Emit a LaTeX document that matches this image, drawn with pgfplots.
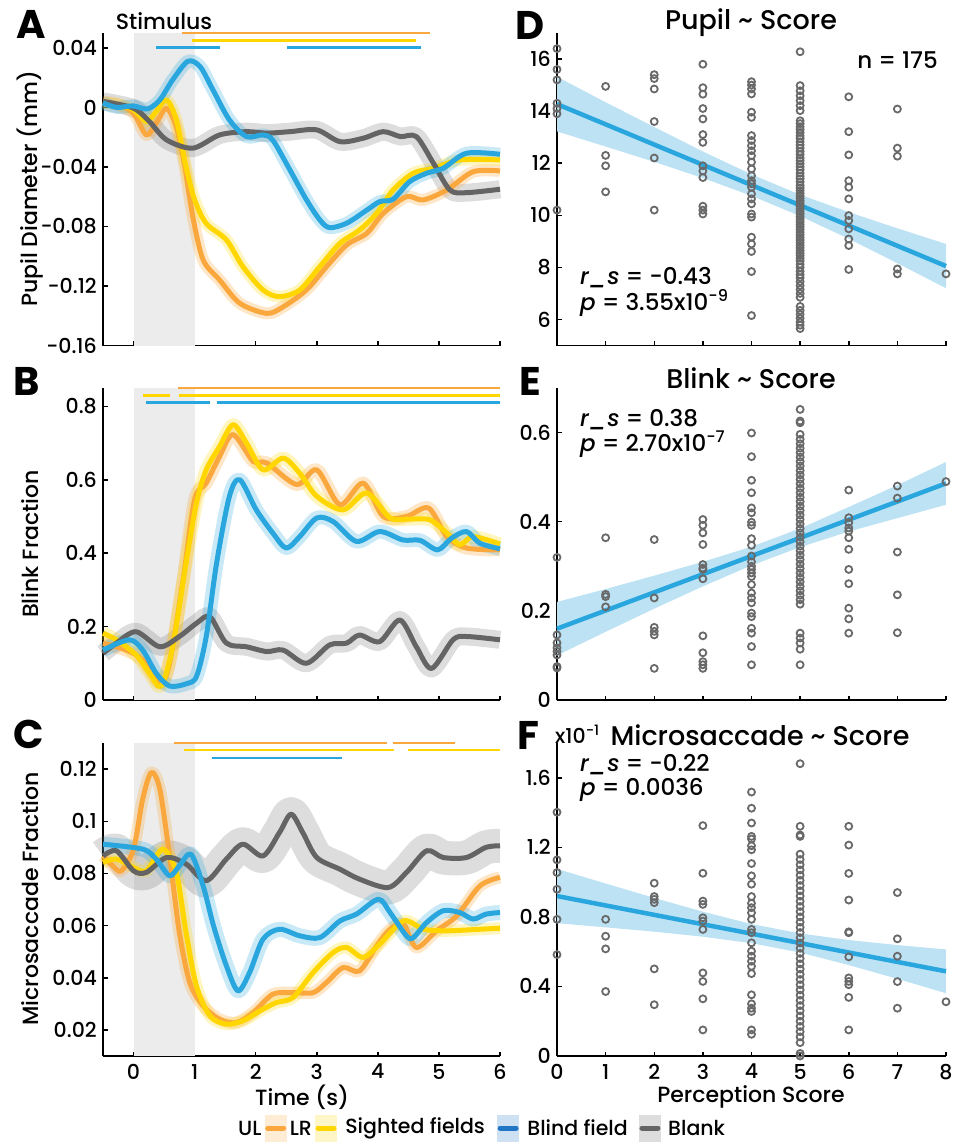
\documentclass[border=0pt]{standalone}
\usepackage{pgfplots}
\pgfplotsset{compat=1.18}
\usepackage{pgfplotstable}
\usetikzlibrary{calc}
\usepackage{fontspec}
\setmainfont{Poppins}[UprightFont={* Medium}, BoldFont={* Bold}, ItalicFont={* Medium Italic}]
\definecolor{cOr}{RGB}{250,168,62}
\definecolor{cYe}{RGB}{255,214,0}
\definecolor{cBl}{RGB}{41,166,222}
\definecolor{cGr}{RGB}{100,100,100}
\definecolor{cStim}{RGB}{236,236,236}
\definecolor{cCI}{RGB}{188,226,244}
\definecolor{cPt}{RGB}{105,105,105}
\definecolor{cLBl}{RGB}{32,118,196}
\newcommand\tk{\fontsize{20.5}{24}\selectfont}
\newcommand\lb{\fontsize{22}{26}\selectfont}
\newcommand\ttl{\fontsize{27}{31}\selectfont}
\newcommand\ann{\fontsize{23}{27}\selectfont}
\newcommand\lgd{\fontsize{20.5}{24}\selectfont}
\newcommand\pl{\fontsize{40}{46}\selectfont\bfseries}

% ---------------- Panel A: pupil ----------------
\pgfplotstableread{
x y
-0.5 0.004
-0.25 0.002
0 -0.004
0.21 -0.0185
0.37 -0.0106
0.54 -0.0006
0.70 -0.013
0.84 -0.040
0.97 -0.0734
1.14 -0.1025
1.41 -0.116
1.74 -0.1316
2.18 -0.1384
2.45 -0.134
2.83 -0.1227
3.16 -0.107
3.49 -0.0924
3.82 -0.0846
4.09 -0.0711
4.47 -0.060
4.74 -0.0622
5.13 -0.0555
5.56 -0.0432
6.0 -0.0427
}\AOr
\pgfplotstableread{
x y
-0.5 0.003
-0.25 0.002
0 -0.0017
0.21 -0.0095
0.37 -0.0028
0.54 0.005
0.70 -0.0084
0.86 -0.040
1.0 -0.062
1.19 -0.078
1.52 -0.089
1.79 -0.107
2.12 -0.1227
2.39 -0.1272
2.72 -0.1227
3.05 -0.107
3.38 -0.0913
3.70 -0.0824
3.98 -0.0711
4.25 -0.0555
4.58 -0.0442
4.91 -0.0409
5.34 -0.0353
6.0 -0.0353
}\AYe
\pgfplotstableread{
x y
-0.5 0.003
-0.28 0.000
-0.01 0.001
0.23 -0.001
0.43 0.005
0.64 0.0185
0.89 0.031
1.09 0.0274
1.30 0.0118
1.57 -0.0084
1.85 -0.0196
2.12 -0.0185
2.28 -0.022
2.56 -0.042
2.83 -0.062
3.05 -0.0756
3.21 -0.0808
3.49 -0.0778
3.82 -0.069
4.03 -0.0633
4.25 -0.0617
4.52 -0.0499
4.80 -0.0442
5.07 -0.0409
5.45 -0.0308
6.0 -0.0315
}\ABl
\pgfplotstableread{
x y
-0.5 0.004
0 -0.0005
0.26 -0.0095
0.54 -0.0218
0.97 -0.0274
1.41 -0.0185
1.85 -0.0163
2.18 -0.0173
2.56 -0.0163
3.0 -0.0151
3.38 -0.023
3.76 -0.0207
4.09 -0.0163
4.37 -0.0196
4.63 -0.0196
4.91 -0.0375
5.18 -0.0555
5.45 -0.0573
6.0 -0.055
}\AGr
% ---------------- Panel B: blink ----------------
\pgfplotstableread{
x y
-0.5 0.155
-0.12 0.136
0.15 0.109
0.43 0.046
0.59 0.100
0.81 0.327
1.0 0.546
1.19 0.591
1.41 0.664
1.63 0.723
1.96 0.650
2.18 0.646
2.67 0.587
3.0 0.627
3.38 0.532
3.76 0.591
4.09 0.500
4.47 0.500
4.83 0.523
5.13 0.445
5.45 0.414
6.0 0.409
}\BOr
\pgfplotstableread{
x y
-0.5 0.182
-0.28 0.164
0.04 0.123
0.26 0.073
0.45 0.038
0.64 0.145
0.86 0.373
1.03 0.537
1.19 0.627
1.41 0.691
1.63 0.750
1.85 0.700
2.12 0.627
2.45 0.659
2.72 0.618
3.0 0.555
3.43 0.518
3.82 0.564
4.20 0.496
4.52 0.493
4.85 0.491
5.13 0.455
5.34 0.423
5.56 0.445
6.0 0.425
}\BYe
\pgfplotstableread{
x y
-0.5 0.136
-0.07 0.164
0.15 0.136
0.37 0.073
0.59 0.038
0.86 0.044
1.03 0.064
1.19 0.173
1.36 0.373
1.57 0.555
1.74 0.600
2.01 0.518
2.28 0.455
2.50 0.414
2.72 0.445
3.0 0.496
3.27 0.486
3.65 0.432
4.03 0.459
4.41 0.436
4.69 0.435
4.98 0.409
5.20 0.440
5.45 0.459
5.67 0.427
6.0 0.412
}\BBl
\pgfplotstableread{
x y
-0.5 0.127
-0.28 0.155
0.04 0.186
0.43 0.145
0.75 0.173
1.03 0.209
1.25 0.227
1.52 0.155
1.85 0.145
2.18 0.132
2.45 0.136
2.83 0.100
3.21 0.150
3.49 0.155
3.70 0.177
4.03 0.159
4.36 0.218
4.63 0.145
4.88 0.086
5.23 0.164
5.45 0.173
6.0 0.164
}\BGr
% ---------------- Panel C: microsaccade ----------------
\pgfplotstableread{
x y
-0.5 0.0867
-0.34 0.0829
-0.20 0.0810
0 0.0893
0.15 0.1085
0.29 0.1187
0.43 0.1123
0.59 0.0867
0.75 0.0574
0.92 0.0382
1.14 0.0292
1.41 0.0241
1.68 0.0228
1.96 0.0267
2.28 0.0337
2.61 0.0343
2.94 0.0343
3.16 0.0382
3.43 0.0439
3.70 0.0426
3.98 0.0522
4.20 0.0586
4.42 0.0605
4.63 0.0516
4.96 0.0580
5.29 0.0637
5.67 0.0752
6.0 0.0785
}\COr
\pgfplotstableread{
x y
-0.5 0.0842
-0.28 0.0855
0 0.0823
0.21 0.0810
0.48 0.0893
0.70 0.0804
0.86 0.0574
1.03 0.0369
1.25 0.0254
1.52 0.0222
1.79 0.0235
2.07 0.0273
2.34 0.0305
2.61 0.0324
2.94 0.0420
3.27 0.0497
3.49 0.0516
3.76 0.0478
4.03 0.0529
4.42 0.0618
4.75 0.0586
5.13 0.0580
5.67 0.0586
6.0 0.0590
}\CYe
\pgfplotstableread{
x y
-0.5 0.0912
0.15 0.0893
0.37 0.0855
0.59 0.0791
0.75 0.0829
0.94 0.0874
1.14 0.0752
1.31 0.0599
1.52 0.0446
1.71 0.0350
1.90 0.0420
2.12 0.0548
2.39 0.0586
2.72 0.0561
3.05 0.0554
3.38 0.0618
3.65 0.0644
4.01 0.0701
4.20 0.0650
4.47 0.0560
4.58 0.0554
4.80 0.0612
5.07 0.0657
5.34 0.0650
5.56 0.0625
5.77 0.0644
6.0 0.0650
}\CBl
\pgfplotstableread{
x y
-0.5 0.0867
-0.28 0.0887
0 0.0810
0.21 0.0804
0.54 0.0861
0.86 0.0836
1.19 0.0772
1.52 0.0855
1.79 0.0912
2.12 0.0867
2.39 0.0957
2.58 0.1027
2.77 0.0957
3.0 0.0861
3.38 0.0816
3.70 0.0778
4.17 0.0746
4.47 0.0804
4.80 0.0887
5.07 0.0861
5.45 0.0861
5.77 0.0900
6.0 0.0906
}\CGr

\pgfplotsset{
  base/.style={scale only axis, axis lines*=left, clip=false,
    axis line style={line width=1.5pt,black,-},
    tick align=inside, major tick length=4.5pt,
    every tick/.append style={line width=1.5pt,black},
    tick label style={font=\tk, inner sep=0pt},
    yticklabel style={xshift=-6pt},
    xticklabel style={yshift=-8pt},
    /pgf/number format/assume math mode=true},
  lpan/.style={base, width=397pt, xmin=-0.5, xmax=6, xtick={0,...,6}},
  rpan/.style={base, width=389pt, xmin=0, xmax=8, xtick={0,...,8}},
  band/.style={draw=#1, smooth, tension=0.5, line cap=butt, line join=round, forget plot},
  main/.style={draw=#1, line width=5pt, smooth, tension=0.5, line cap=butt, line join=round},
  sig/.style={draw=#1, line width=2.6pt, line cap=butt},
  pts/.style={only marks, mark=o, mark size=3.5pt, mark options={line width=1.8pt, draw=cPt}},
}

\begin{document}
\begin{tikzpicture}
\useasboundingbox (0pt,0pt) rectangle (965pt,-1146pt);

% ============ A ============
\begin{axis}[lpan, at={(103pt,-345.5pt)}, anchor=south west, height=312.5pt,
  ymin=-0.16, ymax=0.05, ytick={-0.16,-0.12,-0.08,-0.04,0,0.04},
  yticklabels={-0.16,-0.12,-0.08,-0.04,0,0.04}, xticklabels={}]
\addplot[fill=cStim, draw=none] coordinates {(0,-0.16) (1,-0.16) (1,0.05) (0,0.05)};
\addplot[band=cGr, draw opacity=0.22, line width=18pt] table {\AGr};
\addplot[band=cOr, draw opacity=0.28, line width=12pt] table {\AOr};
\addplot[band=cYe, draw opacity=0.25, line width=12pt] table {\AYe};
\addplot[band=cBl, draw opacity=0.25, line width=13pt] table {\ABl};
\addplot[main=cOr] table {\AOr};
\addplot[main=cYe] table {\AYe};
\addplot[main=cGr] table {\AGr};
\addplot[main=cBl] table {\ABl};
\addplot[sig=cOr] coordinates {(0.80,0.0499) (4.85,0.0499)};
\addplot[sig=cYe] coordinates {(0.95,0.0449) (4.63,0.0449)};
\addplot[sig=cBl] coordinates {(0.37,0.0402) (1.41,0.0402)};
\addplot[sig=cBl] coordinates {(2.51,0.0402) (4.70,0.0402)};
\end{axis}

% ============ B ============
\begin{axis}[lpan, at={(103pt,-700pt)}, anchor=south west, height=312pt,
  ymin=0, ymax=0.85, ytick={0,0.2,0.4,0.6,0.8},
  yticklabels={0,0.2,0.4,0.6,0.8}, xticklabels={}]
\addplot[fill=cStim, draw=none] coordinates {(0,0) (1,0) (1,0.85) (0,0.85)};
\addplot[band=cGr, draw opacity=0.22, line width=18pt] table {\BGr};
\addplot[band=cOr, draw opacity=0.28, line width=13pt] table {\BOr};
\addplot[band=cYe, draw opacity=0.25, line width=13pt] table {\BYe};
\addplot[band=cBl, draw opacity=0.25, line width=14pt] table {\BBl};
\addplot[main=cOr] table {\BOr};
\addplot[main=cYe] table {\BYe};
\addplot[main=cGr] table {\BGr};
\addplot[main=cBl] table {\BBl};
\addplot[sig=cOr] coordinates {(0.72,0.85) (6,0.85)};
\addplot[sig=cYe] coordinates {(0.16,0.830) (0.59,0.830)};
\addplot[sig=cYe] coordinates {(0.75,0.830) (6,0.830)};
\addplot[sig=cBl] coordinates {(0.21,0.810) (1.26,0.810)};
\addplot[sig=cBl] coordinates {(1.36,0.810) (6,0.810)};
\end{axis}

% ============ C ============
\begin{axis}[lpan, at={(103pt,-1056pt)}, anchor=south west, height=313pt,
  ymin=0.01, ymax=0.13, ytick={0.02,0.04,0.06,0.08,0.1,0.12},
  yticklabels={0.02,0.04,0.06,0.08,0.1,0.12}, xticklabels={0,1,2,3,4,5,6}]
\addplot[fill=cStim, draw=none] coordinates {(0,0.01) (1,0.01) (1,0.13) (0,0.13)};
\addplot[band=cGr, draw opacity=0.22, line width=34pt] table {\CGr};
\addplot[band=cOr, draw opacity=0.28, line width=12pt] table {\COr};
\addplot[band=cYe, draw opacity=0.25, line width=12pt] table {\CYe};
\addplot[band=cBl, draw opacity=0.25, line width=15pt] table {\CBl};
\addplot[main=cOr] table {\COr};
\addplot[main=cYe] table {\CYe};
\addplot[main=cGr] table {\CGr};
\addplot[main=cBl] table {\CBl};
\addplot[sig=cOr] coordinates {(0.67,0.13) (4.15,0.13)};
\addplot[sig=cOr] coordinates {(4.25,0.13) (5.26,0.13)};
\addplot[sig=cYe] coordinates {(0.82,0.1273) (4.27,0.1273)};
\addplot[sig=cYe] coordinates {(4.50,0.1273) (6,0.1273)};
\addplot[sig=cBl] coordinates {(1.28,0.1243) (3.41,0.1243)};
\end{axis}

% ============ D ============
\begin{axis}[rpan, at={(557pt,-345.5pt)}, anchor=south west, height=312.5pt,
  ymin=5, ymax=17, ytick={6,8,10,12,14,16}, yticklabels={6,8,10,12,14,16}, xticklabels={}]
\addplot[fill=cCI, draw=none] coordinates {(0,15.32) (1,14.34) (2,13.39) (3,12.45) (4,11.57) (5,10.79) (6,10.12) (7,9.50) (8,8.90)
 (8,7.20) (7,8.16) (6,9.10) (5,9.97) (4,10.75) (3,11.43) (2,12.05) (1,12.64) (0,13.22)};
\addplot[pts] coordinates {
(0,16.4) (0,15.6) (0,15.2) (0,14.3) (0,14.1) (0,13.9) (0,10.2)
(1,14.95) (1,12.3) (1,11.9) (1,10.9)
(2,15.4) (2,15.25) (2,14.85) (2,13.6) (2,12.2) (2,10.2)
(3,15.8) (3,14.9) (3,14.65) (3,14.1) (3,13.7) (3,13.1) (3,12.8) (3,11.9) (3,11.7) (3,11.45) (3,10.35) (3,10.2) (3,10.05)
(4,15.13) (4,15.0) (4,14.85) (4,14.66) (4,13.96) (4,13.76) (4,13.06) (4,12.87) (4,12.67) (4,12.48) (4,12.29) (4,12.04) (4,11.78) (4,11.52) (4,11.33) (4,11.21) (4,11.08) (4,10.82) (4,10.63) (4,10.44) (4,10.05) (4,9.93) (4,9.16) (4,8.90) (4,8.61) (4,7.84) (4,6.15)
(5,16.28) (5,14.98) (5,14.78) (5,14.59) (5,14.40) (5,14.21) (5,14.02) (5,13.63) (5,13.52) (5,13.40) (5,13.30) (5,13.18) (5,13.05) (5,12.95) (5,12.82) (5,12.70) (5,12.58) (5,12.45) (5,12.33) (5,12.20) (5,12.10) (5,11.98) (5,11.86) (5,11.75) (5,11.62) (5,11.50) (5,11.40) (5,11.28) (5,11.15) (5,11.05) (5,10.95) (5,10.85) (5,10.75) (5,10.65) (5,10.55) (5,10.45) (5,10.35) (5,10.25) (5,10.15) (5,10.05) (5,9.95) (5,9.85) (5,9.75) (5,9.65) (5,9.55) (5,9.45) (5,9.35) (5,9.25) (5,9.15) (5,9.05) (5,8.95) (5,8.85) (5,8.75) (5,8.65) (5,8.55) (5,8.45) (5,8.35) (5,8.25) (5,8.12) (5,8.00) (5,7.85) (5,7.72) (5,7.60) (5,7.45) (5,7.30) (5,7.15) (5,7.00) (5,6.85) (5,6.50) (5,6.35) (5,6.20) (5,6.05) (5,5.90) (5,5.78) (5,5.65)
(6,14.55) (6,13.21) (6,12.32) (6,11.33) (6,11.08) (6,10.63) (6,9.99) (6,9.80) (6,9.48) (6,9.09) (6,8.84) (6,7.92)
(7,14.08) (7,12.58) (7,12.27) (7,7.94) (7,7.75)
(8,7.75)};
\addplot[cBl, line width=4.5pt] coordinates {(0,14.27) (8,8.05)};
\end{axis}

% ============ E ============
\begin{axis}[rpan, at={(557pt,-700pt)}, anchor=south west, height=312pt,
  ymin=0, ymax=0.7, ytick={0,0.2,0.4,0.6}, yticklabels={0,0.2,0.4,0.6}, xticklabels={}]
\addplot[fill=cCI, draw=none] coordinates {(0,0.220) (1,0.249) (2,0.279) (3,0.310) (4,0.344) (5,0.385) (6,0.433) (7,0.482) (8,0.534)
 (8,0.438) (7,0.408) (6,0.378) (5,0.343) (4,0.302) (3,0.255) (2,0.205) (1,0.153) (0,0.100)};
\addplot[pts] coordinates {
(0,0.32) (0,0.146) (0,0.128) (0,0.117) (0,0.109) (0,0.101) (0,0.075) (0,0.072)
(1,0.364) (1,0.237) (1,0.232) (1,0.209)
(2,0.36) (2,0.229) (2,0.163) (2,0.154) (2,0.146) (2,0.071)
(3,0.405) (3,0.392) (3,0.375) (3,0.349) (3,0.304) (3,0.296) (3,0.293) (3,0.272) (3,0.144) (3,0.106) (3,0.086) (3,0.079) (3,0.071)
(4,0.599) (4,0.546) (4,0.493) (4,0.465) (4,0.431) (4,0.420) (4,0.399) (4,0.392) (4,0.362) (4,0.347) (4,0.323) (4,0.31) (4,0.30) (4,0.293) (4,0.285) (4,0.277) (4,0.259) (4,0.240) (4,0.229) (4,0.218) (4,0.195) (4,0.187) (4,0.161) (4,0.150) (4,0.120) (4,0.079)
(5,0.652) (5,0.626) (5,0.622) (5,0.596) (5,0.585) (5,0.575) (5,0.565) (5,0.555) (5,0.545) (5,0.535) (5,0.525) (5,0.515) (5,0.505) (5,0.495) (5,0.485) (5,0.475) (5,0.465) (5,0.455) (5,0.445) (5,0.435) (5,0.425) (5,0.415) (5,0.405) (5,0.395) (5,0.385) (5,0.375) (5,0.365) (5,0.355) (5,0.345) (5,0.335) (5,0.325) (5,0.315) (5,0.305) (5,0.295) (5,0.285) (5,0.275) (5,0.265) (5,0.255) (5,0.245) (5,0.235) (5,0.225) (5,0.215) (5,0.150) (5,0.139) (5,0.128) (5,0.114) (5,0.079)
(6,0.471) (6,0.409) (6,0.398) (6,0.386) (6,0.379) (6,0.364) (6,0.338) (6,0.293) (6,0.261) (6,0.206) (6,0.182) (6,0.150)
(7,0.480) (7,0.453) (7,0.332) (7,0.236) (7,0.151)
(8,0.490)};
\addplot[cBl, line width=4.5pt] coordinates {(0,0.160) (8,0.486)};
\end{axis}

% ============ F ============
\begin{axis}[rpan, at={(557pt,-1056pt)}, anchor=south west, height=313pt,
  ymin=0, ymax=1.8, ytick={0,0.4,0.8,1.2,1.6}, yticklabels={0,0.4,0.8,1.2,1.6},
  xticklabels={0,1,2,3,4,5,6,7,8}]
\addplot[fill=cCI, draw=none] coordinates {(0,1.076) (1,0.992) (2,0.909) (3,0.830) (4,0.759) (5,0.705) (6,0.667) (7,0.638) (8,0.613)
 (8,0.361) (7,0.444) (6,0.523) (5,0.595) (4,0.649) (3,0.686) (2,0.715) (1,0.740) (0,0.764)};
\addplot[pts] coordinates {
(0,1.402) (0,1.128) (0,1.055) (0,0.959) (0,0.786) (0,0.583)
(1,0.786) (1,0.689) (1,0.616) (1,0.371)
(2,0.994) (2,0.917) (2,0.901) (2,0.882) (2,0.501) (2,0.295)
(3,1.325) (3,1.051) (3,0.891) (3,0.872) (3,0.795) (3,0.776) (3,0.728) (3,0.478) (3,0.429) (3,0.329) (3,0.150)
(4,1.518) (4,1.425) (4,1.340) (4,1.263) (4,1.248) (4,1.209) (4,1.186) (4,1.107) (4,1.036) (4,0.988) (4,0.917) (4,0.878) (4,0.853) (4,0.824) (4,0.786) (4,0.728) (4,0.709) (4,0.651) (4,0.603) (4,0.574) (4,0.545) (4,0.516) (4,0.474) (4,0.352) (4,0.300) (4,0.275) (4,0.256) (4,0.150) (4,0.125)
(5,1.681) (5,1.321) (5,1.271) (5,1.263) (5,1.161) (5,1.13) (5,1.10) (5,1.07) (5,1.04) (5,1.01) (5,0.98) (5,0.95) (5,0.92) (5,0.89) (5,0.86) (5,0.83) (5,0.80) (5,0.77) (5,0.74) (5,0.71) (5,0.68) (5,0.65) (5,0.62) (5,0.59) (5,0.56) (5,0.53) (5,0.50) (5,0.47) (5,0.44) (5,0.41) (5,0.38) (5,0.35) (5,0.32) (5,0.29) (5,0.26) (5,0.23) (5,0.20) (5,0.17) (5,0.14) (5,0.11) (5,0.077) (5,0.015) (5,0.0)
(6,1.321) (6,1.213) (6,1.050) (6,0.897) (6,0.714) (6,0.709) (6,0.570) (6,0.449) (6,0.429) (6,0.410) (6,0.337) (6,0.150)
(7,0.940) (7,0.674) (7,0.574) (7,0.428) (7,0.275)
(8,0.312)};
\addplot[cBl, line width=4.5pt] coordinates {(0,0.920) (8,0.487)};
\end{axis}

% ============ Text ============
\node[font=\pl] at (31pt,-24pt) {A};
\node[font=\pl] at (27pt,-381pt) {B};
\node[font=\pl] at (29pt,-734pt) {C};
\node[font=\pl] at (530pt,-25pt) {D};
\node[font=\pl] at (530pt,-381pt) {E};
\node[font=\pl] at (528pt,-735pt) {F};
\node[font=\lb] at (164pt,-21pt) {Stimulus};
\node[font=\lb, rotate=90] at (30pt,-189pt) {Pupil Diameter (mm)};
\node[font=\lb, rotate=90] at (30pt,-544pt) {Blink Fraction};
\node[font=\lb, rotate=90] at (30pt,-899pt) {Microsaccade Fraction};
\node[font=\lb, inner sep=0pt] at (302pt,-1097pt) {Time (s)};
\node[font=\lb, inner sep=0pt] at (751pt,-1097pt) {Perception Score};
\node[font=\ttl] at (751pt,-23pt) {Pupil \textasciitilde\ Score};
\node[font=\ttl] at (751pt,-378pt) {Blink \textasciitilde\ Score};
\node[font=\ttl] at (760pt,-735pt) {Microsaccade \textasciitilde\ Score};
\node[font=\tk, anchor=west, inner sep=0pt] at (555pt,-734pt) {x10\textsuperscript{-1}};
\node[font=\ann, anchor=east, inner sep=0pt] at (938pt,-60pt) {n = 175};
\node[font=\ann, anchor=west, inner sep=0pt] at (580pt,-278pt) {\textit{r\_s} = -0.43};
\node[font=\ann, anchor=west, inner sep=0pt] at (580pt,-303pt) {\textit{p} = 3.55x10\textsuperscript{-9}};
\node[font=\ann, anchor=west, inner sep=0pt] at (580pt,-420pt) {\textit{r\_s} = 0.38};
\node[font=\ann, anchor=west, inner sep=0pt] at (580pt,-444pt) {\textit{p} = 2.70x10\textsuperscript{-7}};
\node[font=\ann, anchor=west, inner sep=0pt] at (580pt,-765pt) {\textit{r\_s} = -0.22};
\node[font=\ann, anchor=west, inner sep=0pt] at (580pt,-790pt) {\textit{p} = 0.0036};

% ============ Legend ============
\node[font=\lgd, anchor=west, inner sep=0pt] (ul) at (238pt,-1128pt) {UL};
\fill[cOr, opacity=0.22] ($(ul.east)+(3pt,13.5pt)$) rectangle ++(22pt,-27pt);
\draw[cOr, line width=5pt, line cap=round] ($(ul.east)+(6pt,0pt)$) -- ++(16pt,0pt);
\node[font=\lgd, anchor=west, inner sep=0pt] (lr) at ($(ul.east)+(28pt,0pt)$) {LR};
\fill[cYe, opacity=0.22] ($(lr.east)+(3pt,13.5pt)$) rectangle ++(22pt,-27pt);
\draw[cYe, line width=5pt, line cap=round] ($(lr.east)+(6pt,0pt)$) -- ++(16pt,0pt);
\node[font=\lgd, anchor=west, inner sep=0pt] (sf) at ($(lr.east)+(33pt,0pt)$) {Sighted fields};
\fill[cLBl, opacity=0.22] ($(sf.east)+(12pt,13.5pt)$) rectangle ++(22pt,-27pt);
\draw[cLBl, line width=5pt, line cap=round] ($(sf.east)+(15pt,0pt)$) -- ++(16pt,0pt);
\node[font=\lgd, anchor=west, inner sep=0pt] (bf) at ($(sf.east)+(42pt,0pt)$) {Blind field};
\fill[cGr, opacity=0.22] ($(bf.east)+(11pt,13.5pt)$) rectangle ++(22pt,-27pt);
\draw[cGr, line width=5pt, line cap=round] ($(bf.east)+(14pt,0pt)$) -- ++(16pt,0pt);
\node[font=\lgd, anchor=west, inner sep=0pt] at ($(bf.east)+(40pt,0pt)$) {Blank};
\end{tikzpicture}
\end{document}
